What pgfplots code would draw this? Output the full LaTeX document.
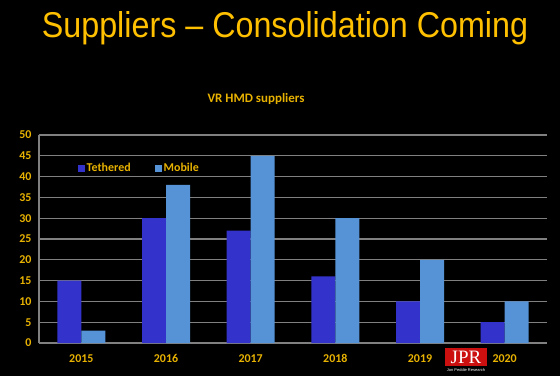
\documentclass[border=0pt]{standalone}
\usepackage{pgfplots}
\pgfplotsset{compat=1.18}
\usepackage{fontspec}
\setmainfont{Carlito}
\newfontfamily\arialfont{Liberation Sans}
\newfontfamily\timesfont{Liberation Serif}
\definecolor{tyellow}{RGB}{255,192,0}
\definecolor{lyellow}{RGB}{232,178,0}
\definecolor{teth}{RGB}{51,51,204}
\definecolor{mob}{RGB}{85,146,214}
\definecolor{jprred}{RGB}{204,16,16}
\definecolor{gridgray}{RGB}{128,128,128}
\begin{document}
\begin{tikzpicture}[x=1bp,y=1bp]
\fill[black] (0,0) rectangle (560,376);
\node[anchor=base, text=tyellow, font=\arialfont\fontsize{36}{40}\selectfont, inner sep=0, xscale=0.9] at (285,339) {Suppliers – Consolidation Coming};
\node[anchor=base, text=lyellow, font=\bfseries\fontsize{13}{15}\selectfont, inner sep=0] at (256,274) {VR HMD suppliers};
\begin{axis}[
  at={(39bp,33bp)}, anchor=south west, scale only axis,
  width=508bp, height=208bp,
  ybar=0pt, bar width=24bp,
  xmin=-0.5, xmax=5.5, ymin=0, ymax=50,
  xtick={0,...,5}, xticklabels={2015,2016,2017,2018,2019,2020},
  ytick={0,5,...,50},
  ymajorgrids, major grid style={draw=gridgray, line width=1.2bp},
  axis x line*=bottom, axis y line*=left,
  axis line style={draw=gridgray, line width=1.2bp, -},
  major tick length=0pt,
  ticklabel style={font=\bfseries\fontsize{12}{14}\selectfont, text=lyellow},
  /pgf/number format/assume math mode=true,
  yticklabel style={xshift=-4bp},
  xticklabel style={yshift=-8bp},
  legend columns=2,
  legend style={at={(0.07,0.84)}, anchor=west, draw=none, fill=none, text=lyellow,
    font=\bfseries\fontsize{12}{14}\selectfont,
    /tikz/every even column/.append style={column sep=22bp}},
  legend image code/.code={\fill[#1] (0bp,-3.5bp) rectangle (7bp,3.5bp);},
]
\addplot[fill=teth, draw=none] coordinates {(0,15) (1,30) (2,27) (3,16) (4,10) (5,5)};
\addplot[fill=mob, draw=none] coordinates {(0,3) (1,38) (2,45) (3,30) (4,20) (5,10)};
\legend{Tethered, Mobile}
\end{axis}
\node[fill=jprred, text=white, inner sep=1bp, minimum width=42bp, minimum height=18bp, font=\timesfont\fontsize{19}{20}\selectfont] at (466,19) {JPR};
\node[text=white, inner sep=0, font=\arialfont\fontsize{4}{5}\selectfont] at (466,6) {Jon Peddie Research};
\end{tikzpicture}
\end{document}
